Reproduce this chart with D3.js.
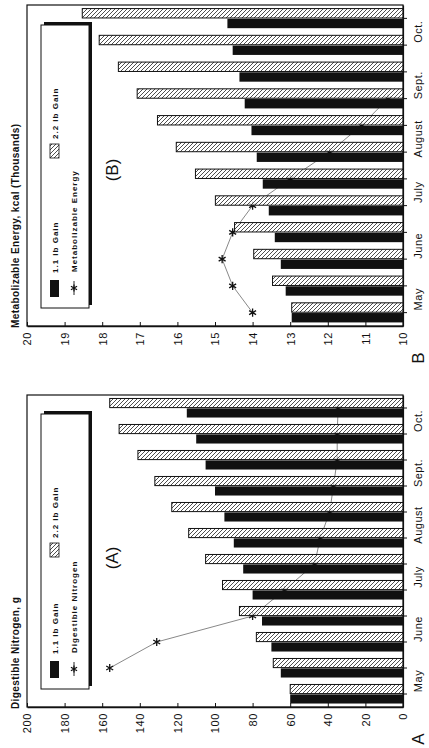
<!DOCTYPE html>
<html>
<head>
<meta charset="utf-8">
<script src="https://cdn.jsdelivr.net/npm/d3@7"></script>
<style>
  body { margin: 0; background: #fff; }
  svg { display: block; font-family: "Liberation Sans", Arial, sans-serif; }
</style>
</head>
<body>
<div id="chart"></div>
<script>
// two periods per month, May .. Oct.
const months = ["May", "June", "July", "August", "Sept.", "Oct."];
const periods = d3.range(12);

// (A) digestible nitrogen, g
const nitroGain11 = [60, 65, 70, 75, 80, 85, 90, 95, 100, 105, 110, 115];
const nitroGain22 = [60, 69, 78, 87, 96, 105, 114, 123, 132, 141, 151, 156];
const nitroPasture = [null, 156, 131, 80, 63, 47, 44, 39, 37, 35, 35, 34.5];
const nitroTicks = d3.range(0, 201, 20);

// (B) metabolizable energy, kcal (thousands)
const energyGain11 = [12.96, 13.12, 13.25, 13.41, 13.57, 13.73, 13.89, 14.03, 14.21, 14.35, 14.53, 14.67];
const energyGain22 = [12.96, 13.47, 13.97, 14.48, 14.99, 15.52, 16.03, 16.53, 17.07, 17.57, 18.08, 18.53];
const energyPasture = [14.0, 14.53, 14.81, 14.53, 14.0, 13.0, 11.95, 11.1, 10.4, null, null, null];
const energyTicks = d3.range(10, 21, 1);

const W = 429, H = 748;
const xLeft = 27, xRight = 403;
const ink = "#111";

const panels = [
  {
    top: 5, bottom: 326, domain: [10, 20], ticks: energyTicks,
    g11: energyGain11, g22: energyGain22, line: energyPasture,
    title: "Metabolizable Energy, kcal (Thousands)",
    lineName: "Metabolizable Energy", tag: "(B)", tagY: 170, letter: "B",
    legTop: 25, legBottom: 308, hatchOff: 150
  },
  {
    top: 395, bottom: 707, domain: [0, 200], ticks: nitroTicks,
    g11: nitroGain11, g22: nitroGain22, line: nitroPasture,
    title: "Digestible Nitrogen, g",
    lineName: "Digestible Nitrogen", tag: "(A)", tagY: 558, letter: "A",
    legTop: 414, legBottom: 689, hatchOff: 132
  }
];

const svg = d3.select("#chart").append("svg")
  .attr("width", W)
  .attr("height", H);

// hatch fill for the 2.2 lb bars
const pat = svg.append("defs").append("pattern")
  .attr("id", "hatch")
  .attr("patternUnits", "userSpaceOnUse")
  .attr("width", 4)
  .attr("height", 4);
pat.append("rect").attr("width", 4).attr("height", 4)
  .attr("fill", "#fff").attr("fill-opacity", 0.75);
pat.append("path")
  .attr("d", "M-1,1 l2,-2 M0,4 l4,-4 M3,5 l2,-2")
  .attr("stroke", "#222")
  .attr("stroke-width", 0.8);

// text turned a quarter left, reading bottom to top
function upText(g, x, y, str, size, anchor, weight, spacing) {
  return g.append("text")
    .attr("transform", `translate(${x},${y}) rotate(-90)`)
    .attr("text-anchor", anchor)
    .attr("dominant-baseline", "central")
    .attr("font-size", size)
    .attr("font-weight", weight || "normal")
    .attr("letter-spacing", spacing || 0)
    .attr("fill", ink)
    .text(str);
}

panels.forEach((p) => {
  const g = svg.append("g");

  const x = d3.scaleLinear().domain(p.domain).range([xRight, xLeft]);
  const y = d3.scaleBand().domain(periods).range([p.bottom, p.top]);
  const sub = d3.scaleBand()
    .domain(["g22", "g11"])
    .range([0, y.bandwidth()])
    .paddingOuter(0.35)
    .paddingInner(0.08);
  const mid = (i) => y(i) + y.bandwidth() / 2;

  // frame
  g.append("rect")
    .attr("x", xLeft)
    .attr("y", p.top)
    .attr("width", xRight - xLeft)
    .attr("height", p.bottom - p.top)
    .attr("fill", "none")
    .attr("stroke", ink)
    .attr("stroke-width", 1.2);

  // pasture line sits under the bars
  const pts = p.line.map((v, i) => ({ i, v }));
  const line = d3.line()
    .defined((d) => d.v != null)
    .x((d) => x(d.v))
    .y((d) => mid(d.i));
  g.append("path")
    .datum(pts)
    .attr("d", line)
    .attr("fill", "none")
    .attr("stroke", "#555")
    .attr("stroke-width", 0.7);
  g.selectAll(".star")
    .data(pts.filter((d) => d.v != null))
    .join("path")
    .attr("class", "star")
    .attr("transform", (d) => `translate(${x(d.v)},${mid(d.i)})`)
    .attr("d", d3.symbol(d3.symbolAsterisk, 45))
    .attr("fill", "none")
    .attr("stroke", ink)
    .attr("stroke-width", 1.3);

  // 2.2 lb gain
  g.selectAll(".b22")
    .data(p.g22)
    .join("rect")
    .attr("class", "b22")
    .attr("x", (d) => x(d))
    .attr("y", (d, i) => y(i) + sub("g22"))
    .attr("width", (d) => x(p.domain[0]) - x(d))
    .attr("height", sub.bandwidth())
    .attr("fill", "url(#hatch)")
    .attr("stroke", ink)
    .attr("stroke-width", 1);

  // 1.1 lb gain
  g.selectAll(".b11")
    .data(p.g11)
    .join("rect")
    .attr("class", "b11")
    .attr("x", (d) => x(d))
    .attr("y", (d, i) => y(i) + sub("g11"))
    .attr("width", (d) => x(p.domain[0]) - x(d))
    .attr("height", sub.bandwidth())
    .attr("fill", ink);

  // value axis along the bottom
  const ax = g.append("g")
    .attr("transform", `translate(0,${p.bottom})`)
    .call(d3.axisBottom(x).tickValues(p.ticks).tickSize(-4).tickSizeOuter(0))
    .attr("font-family", null)
    .attr("font-size", 11);
  ax.select(".domain").attr("stroke", ink).attr("stroke-width", 1.5);
  ax.selectAll(".tick line").attr("stroke", ink);
  ax.selectAll("text")
    .attr("y", null)
    .attr("dy", "0.35em")
    .attr("text-anchor", "end")
    .attr("letter-spacing", 0.6)
    .attr("fill", ink)
    .attr("transform", "translate(0,6) rotate(-90)");

  // period axis on the right
  const ay = g.append("g")
    .attr("transform", `translate(${xRight},0)`)
    .call(d3.axisRight(y).tickSize(4).tickSizeOuter(0).tickFormat(""));
  ay.select(".domain").attr("stroke", ink).attr("stroke-width", 1.2);
  ay.selectAll(".tick line").attr("stroke", ink);

  months.forEach((m, k) => {
    upText(g, 418, (mid(2 * k) + mid(2 * k + 1)) / 2, m, 11, "middle", "normal", 0.5);
  });

  // titles and tags
  upText(g, 15, p.bottom + 2, p.title, 10, "start", "bold", 0.4);
  upText(g, 112, p.tagY, p.tag, 17, "middle");
  upText(g, 418, p.bottom + 32, p.letter, 17, "middle");

  // legend box with shadow
  const lh = p.legBottom - p.legTop;
  g.append("rect")
    .attr("x", 44).attr("y", p.legTop - 3)
    .attr("width", 48).attr("height", lh)
    .attr("fill", ink);
  g.append("rect")
    .attr("x", 41).attr("y", p.legTop)
    .attr("width", 48).attr("height", lh)
    .attr("fill", "#fff")
    .attr("stroke", ink)
    .attr("stroke-width", 1);

  const lb = p.legBottom;
  g.append("rect")
    .attr("x", 50).attr("y", lb - 28)
    .attr("width", 9).attr("height", 17)
    .attr("fill", ink);
  upText(g, 55, lb - 35, "1.1 lb Gain", 8, "start", "bold", 1);

  g.append("rect")
    .attr("x", 50).attr("y", lb - p.hatchOff - 14)
    .attr("width", 9).attr("height", 14)
    .attr("fill", "url(#hatch)")
    .attr("stroke", ink)
    .attr("stroke-width", 0.8);
  upText(g, 55, lb - p.hatchOff - 19, "2.2 lb Gain", 8, "start", "bold", 1);

  g.append("line")
    .attr("x1", 74).attr("x2", 74)
    .attr("y1", lb - 27).attr("y2", lb - 13)
    .attr("stroke", ink)
    .attr("stroke-width", 0.9);
  g.append("path")
    .attr("transform", `translate(74,${lb - 20})`)
    .attr("d", d3.symbol(d3.symbolAsterisk, 35))
    .attr("fill", "none")
    .attr("stroke", ink)
    .attr("stroke-width", 1.2);
  upText(g, 74, lb - 36, p.lineName, 8, "start", "bold", 1);
});
</script>
</body>
</html>
